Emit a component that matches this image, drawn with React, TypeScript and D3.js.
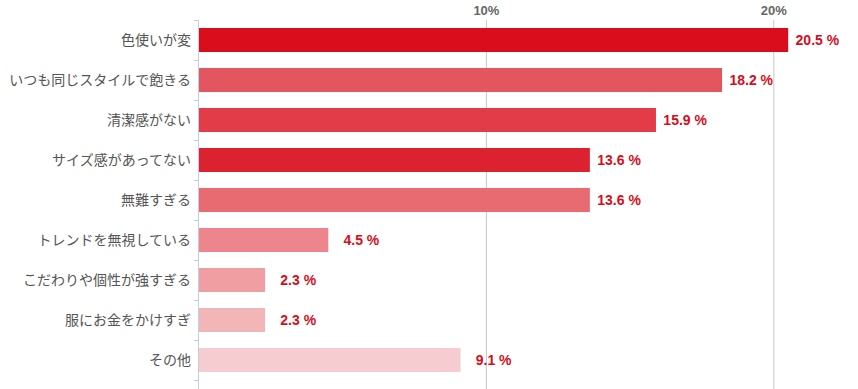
import { useEffect, useRef } from "react";
import * as d3 from "d3";

const categories = [
  "色使いが変",
  "いつも同じスタイルで飽きる",
  "清潔感がない",
  "サイズ感があってない",
  "無難すぎる",
  "トレンドを無視している",
  "こだわりや個性が強すぎる",
  "服にお金をかけすぎ",
  "その他",
];
const values = [20.5, 18.2, 15.9, 13.6, 13.6, 4.5, 2.3, 2.3, 9.1];
const barColors = [
  "#d90d1b",
  "#e4565f",
  "#e13c48",
  "#dc2230",
  "#e86b72",
  "#ec868c",
  "#f09ea2",
  "#f3b6b8",
  "#f6ccd1",
];
const xTicks = [10, 20];

export default function App() {
  const svgElem = useRef<SVGSVGElement>(null);

  useEffect(() => {
    const width = 858;
    const height = 389;
    const svg = d3.select(svgElem.current);
    svg.selectAll("*").remove();

    const left = 199;
    const top = 20;

    const x = d3.scaleLinear().domain([0, 10]).range([left, left + 287.4]);
    const y = d3
      .scaleBand()
      .domain(categories)
      .range([top, top + 40 * categories.length])
      .paddingInner(0.4)
      .paddingOuter(0.2);

    // vertical grid + top tick labels
    svg
      .append("g")
      .selectAll("line")
      .data(xTicks)
      .join("line")
      .attr("x1", (d) => x(d))
      .attr("x2", (d) => x(d))
      .attr("y1", top)
      .attr("y2", height)
      .attr("stroke", "#c8c8c8")
      .attr("stroke-width", 1);

    svg
      .append("g")
      .selectAll("text")
      .data(xTicks)
      .join("text")
      .attr("x", (d) => x(d))
      .attr("y", 15)
      .attr("text-anchor", "middle")
      .attr("font-family", "'Liberation Sans', Arial, sans-serif")
      .attr("font-weight", "bold")
      .attr("font-size", 13)
      .attr("fill", "#666")
      .text((d) => d + "%");

    // bars
    svg
      .append("g")
      .selectAll("rect")
      .data(values)
      .join("rect")
      .attr("x", x(0))
      .attr("y", (_, i) => y(categories[i])!)
      .attr("width", (d) => x(d) - x(0))
      .attr("height", y.bandwidth())
      .attr("fill", (_, i) => barColors[i]);

    // value labels
    svg
      .append("g")
      .selectAll("text")
      .data(values)
      .join("text")
      .attr("x", (d) => x(d) + 51)
      .attr("y", (_, i) => y(categories[i])! + y.bandwidth() / 2)
      .attr("dy", "0.35em")
      .attr("text-anchor", "end")
      .attr("font-family", "'Liberation Sans', Arial, sans-serif")
      .attr("font-weight", "bold")
      .attr("font-size", 14)
      .attr("fill", "#d60d1a")
      .text((d) => d.toFixed(1) + " %");

    // left axis
    const axis = svg.append("g");
    axis
      .append("line")
      .attr("x1", left - 0.5)
      .attr("x2", left - 0.5)
      .attr("y1", top)
      .attr("y2", height)
      .attr("stroke", "#c0d0e0");
    const bounds = d3.range(categories.length + 1).map((i) => top + i * 40);
    axis
      .selectAll("line.tick")
      .data(bounds)
      .join("line")
      .attr("class", "tick")
      .attr("x1", left - 5)
      .attr("x2", left)
      .attr("y1", (d) => d + 0.5)
      .attr("y2", (d) => d + 0.5)
      .attr("stroke", "#c0d0e0");

    axis
      .selectAll("text")
      .data(categories)
      .join("text")
      .attr("x", 191)
      .attr("y", (d) => y(d)! + y.bandwidth() / 2)
      .attr("dy", "0.35em")
      .attr("text-anchor", "end")
      .attr("font-family", "'Noto Sans CJK JP', sans-serif")
      .attr("font-size", 14)
      .attr("fill", "#555")
      .text((d) => d);

    svg.attr("width", width).attr("height", height);
  }, []);

  return (
    <svg
      ref={svgElem}
      style={{ position: "absolute", left: 0, top: 0, background: "#fff" }}
    ></svg>
  );
}
